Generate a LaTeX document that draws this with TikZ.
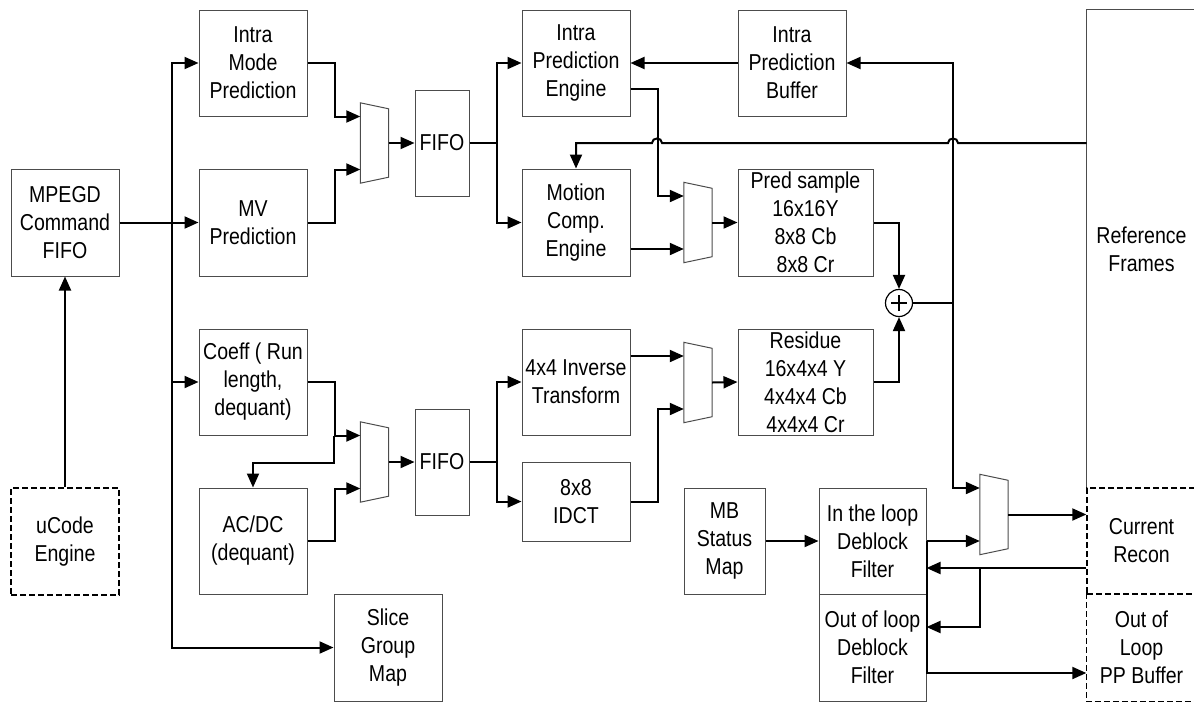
\documentclass[tikz,border=0pt]{standalone}
\usepackage{fontspec}
\setmainfont{Liberation Sans}[FakeStretch=0.85]
\usetikzlibrary{arrows.meta}

\begin{document}
\begin{tikzpicture}[
    x=1pt, y=-1pt,
    block/.style={
      draw=black!70,
      line width=1pt,
      minimum width=108pt,
      minimum height=106pt,
      inner sep=0pt,
      align=center,
      font=\fontsize{23}{28}\selectfont
    },
    store/.style={
      block,
      draw=black,
      line width=1.4pt,
      dash pattern=on 6pt off 3pt
    },
    muxbox/.style={
      minimum width=28pt,
      minimum height=80pt,
      inner sep=0pt
    },
    muxline/.style={
      draw=black!70,
      line width=1pt
    },
    adder/.style={
      circle,
      draw=black,
      line width=1.2pt,
      minimum size=27pt,
      inner sep=0pt,
      path picture={
        \draw[line width=1.8pt]
          ([xshift=-8pt]path picture bounding box.center) -- ([xshift=8pt]path picture bounding box.center)
          ([yshift=-8pt]path picture bounding box.center) -- ([yshift=8pt]path picture bounding box.center);
      }
    },
    wire/.style={
      line width=2pt,
      draw=black
    },
    arrow/.style={
      wire,
      -{Triangle[length=14pt, width=12pt]}
    }
  ]

  \useasboundingbox (0,0) rectangle (1194,702);
  \clip (0,0) rectangle (1194,702);

  % left column
  \node[block, minimum height=107pt] (mpegd) at (65,222.5) {MPEGD\\Command\\FIFO};
  \node[store, minimum height=107pt] (ucode) at (65,541.5) {uCode\\Engine};
  \node[block] (mode) at (253,63) {Intra\\Mode\\Prediction};
  \node[block, minimum height=107pt] (mv) at (253,222.5) {MV\\Prediction};
  \node[block] (coeff) at (253,382) {Coeff ( Run\\length,\\dequant)};
  \node[block] (acdc) at (253,541) {AC/DC\\(dequant)};
  \node[block, minimum height=107pt] (slice) at (388,647.5) {Slice\\Group\\Map};

  % muxes and fifos
  \node[muxbox] (m1) at (374.5,143) {};
  \node[muxbox] (m2) at (698,222.5) {};
  \node[muxbox] (m3) at (374.5,462) {};
  \node[muxbox] (m4) at (698,382.5) {};
  \node[muxbox] (m5) at (994,514.5) {};
  \node[block, minimum width=54pt] (fifoA) at (442,143) {FIFO};
  \node[block, minimum width=54pt] (fifoB) at (442,462) {FIFO};

  % engines
  \node[block] (ipe) at (576,63) {Intra\\Prediction\\Engine};
  \node[block, minimum height=107pt] (mce) at (576,222.5) {Motion\\Comp.\\Engine};
  \node[block] (inv) at (576,382) {4x4 Inverse\\Transform};
  \node[block, minimum height=79pt] (idct) at (576,501.5) {8x8\\IDCT};
  \node[block] (ipb) at (792,63) {Intra\\Prediction\\Buffer};
  \node[block, minimum width=135pt, minimum height=107pt] (pred) at (805.5,222.5) {Pred sample\\16x16Y\\8x8 Cb\\8x8 Cr};
  \node[block, minimum width=135pt] (resid) at (805.5,382) {Residue\\16x4x4 Y\\4x4x4 Cb\\4x4x4 Cr};
  \node[adder] (sum) at (899,303) {};
  \node[block, minimum width=81pt] (mbs) at (724.5,541) {MB\\Status\\Map};
  \node[block, minimum width=107pt] (inloop) at (872.5,541) {In the loop\\Deblock\\Filter};
  \node[block, minimum width=107pt, minimum height=107pt] (outloop) at (872.5,647.5) {Out of loop\\Deblock\\Filter};

  % memories on the right
  \node[block, draw=none, minimum width=109pt, minimum height=478pt] (ref) at (1141.5,249) {Reference\\Frames};
  \draw[block] (ref.south west) |- (ref.north east);
  \node[store, minimum width=109pt] (recon) at (1141.5,541) {Current\\Recon};
  \node[store, draw=none, minimum width=109pt, minimum height=107pt] (ppbuf) at (1141.5,647.5) {Out of\\Loop\\PP Buffer};
  \draw[store] (ppbuf.north west) -- (ppbuf.south west) -- (ppbuf.south east) -- (ppbuf.north east);

  \foreach \m in {m1,m2,m3,m4,m5} {
    \draw[muxline] (\m.north west) -- ([yshift=-6pt]\m.north east) -- ([yshift=6pt]\m.south east) -- (\m.south west) -- cycle;
    \coordinate (\m-a) at ([yshift=26.5pt]\m.west);
    \coordinate (\m-b) at ([yshift=-26.5pt]\m.west);
  }
  \coordinate (bus) at (172,0);
  \coordinate (sumtap) at (953,303);

  % command distribution
  \draw[arrow] (ucode.north) -- (mpegd.south);
  \draw[arrow] (mpegd.east) -- (mv.west);
  \draw[arrow] (bus |- mpegd.east) |- (mode.west);
  \draw[arrow] (bus |- mpegd.east) |- (slice.west);
  \draw[arrow] (bus |- coeff.west) -- (coeff.west);

  % prediction path
  \draw[arrow] (mode.east) -- ++(27,0) |- (m1-a);
  \draw[arrow] (mv.east) -- ++(27,0) |- (m1-b);
  \draw[arrow] (m1.east) -- (fifoA.west);
  \draw[arrow] (fifoA.east) -- ++(27,0) |- (ipe.west);
  \draw[arrow] (fifoA.east) -- ++(27,0) |- (mce.west);
  \draw[arrow] (ipb.west) -- (ipe.east);
  \draw[arrow] ([yshift=-26pt]ipe.east) -- ++(27,0) |- (m2-a);
  \draw[arrow] (mce.east |- m2-b) -- (m2-b);
  \draw[arrow] (m2.east) -- (pred.west);
  \draw[arrow] (ref.west |- 0,143) -- (958,143) .. controls (958,137) and (948,137) .. (948,143)
    -- (662,143) .. controls (662,137) and (652,137) .. (652,143) -| (mce.north);

  % residual path
  \draw[arrow] (coeff.east) -- ++(27,0) |- (m3-a);
  \draw[arrow] (m3-a -| 334,0) -- ++(0,27) -| (acdc.north);
  \draw[arrow] (acdc.east) -- ++(27,0) |- (m3-b);
  \draw[arrow] (m3.east) -- (fifoB.west);
  \draw[arrow] (fifoB.east) -- ++(27,0) |- (inv.west);
  \draw[arrow] (fifoB.east) -- ++(27,0) |- (idct.west);
  \draw[arrow] (inv.east |- m4-a) -- (m4-a);
  \draw[arrow] (idct.east) -- ++(27,0) |- (m4-b);
  \draw[arrow] (m4.east) -- (resid.west);

  % reconstruction
  \draw[arrow] (pred.east) -| (sum.north);
  \draw[arrow] (resid.east) -| (sum.south);
  \draw[wire] (sum.east) -- (sumtap);
  \draw[arrow] (sumtap) |- (ipb.east);
  \draw[arrow] (sumtap) |- (m5-a);
  \draw[arrow] (mbs.east) -- (inloop.west);
  \draw[arrow] (inloop.east) -- (m5-b);
  \draw[arrow] (m5.east) -- (m5.east -| recon.west);
  \draw[arrow] ([yshift=-27pt]recon.west) -- ([yshift=-27pt]recon.west -| inloop.east);
  \draw[arrow] ([yshift=-27pt]recon.west -| m5.west) |- ([yshift=20.5pt]outloop.east);
  \draw[arrow] (inloop.east) |- ([yshift=-25.5pt]ppbuf.west);
\end{tikzpicture}
\end{document}
